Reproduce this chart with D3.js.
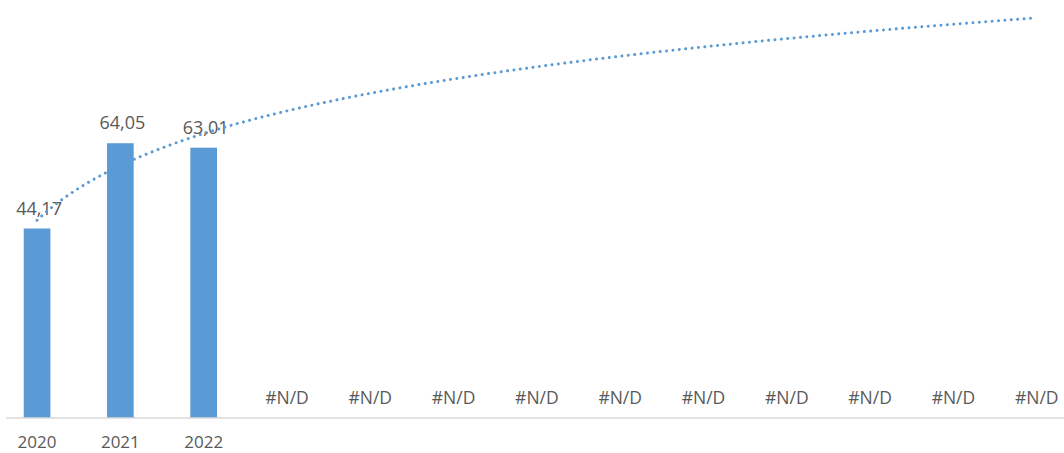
<!DOCTYPE html>
<html>
<head>
<meta charset="utf-8">
<script src="https://cdn.jsdelivr.net/npm/d3@7"></script>
<style>
  html, body { margin: 0; padding: 0; background: #fff; }
  svg { display: block; }
</style>
</head>
<body>
<svg id="chart" width="1064" height="453"></svg>
<script>
// ---- data ----
const categories = ["2020", "2021", "2022", "", "", "", "", "", "", "", "", "", ""];
const values = [44.17, 64.05, 63.01, null, null, null, null, null, null, null, null, null, null];
const labels = ["44,17", "64,05", "63,01", "#N/D", "#N/D", "#N/D", "#N/D", "#N/D", "#N/D", "#N/D", "#N/D", "#N/D", "#N/D"];
const yDomain = [0, 100];

// ---- layout ----
const svg = d3.select("#chart");
const baseY = 418;
const x = d3.scaleBand()
  .domain(d3.range(categories.length))
  .range([-4.6, 1078.4])
  .paddingInner(0.68)
  .paddingOuter(0.34);
const y = d3.scaleLinear().domain(yDomain).range([baseY, -11]);
const cx = i => x(i) + x.bandwidth() / 2;
const step = x.step();

const textColor = "#595959";
const font = "'Open Sans', 'Noto Sans', sans-serif";

// bars
svg.append("g").selectAll("rect")
  .data(values.map((v, i) => ({ v, i })).filter(d => d.v != null))
  .join("rect")
  .attr("x", d => x(d.i))
  .attr("width", x.bandwidth())
  .attr("y", d => y(d.v))
  .attr("height", d => y(0) - y(d.v))
  .attr("fill", "#5b9bd5");

// axis line
svg.append("line")
  .attr("x1", 6).attr("x2", 1064)
  .attr("y1", baseY).attr("y2", baseY)
  .attr("stroke", "#d9d9d9").attr("stroke-width", 1.5);

// category labels
svg.append("g").selectAll("text")
  .data(categories)
  .join("text")
  .attr("x", (d, i) => cx(i))
  .attr("y", 447.5)
  .attr("text-anchor", "middle")
  .attr("font-family", font)
  .attr("font-size", 17)
  .attr("fill", textColor)
  .text(d => d);

// data labels
svg.append("g").selectAll("text")
  .data(labels)
  .join("text")
  .attr("x", (d, i) => cx(i) + (values[i] != null ? 2 : 0))
  .attr("y", (d, i) => y(values[i] == null ? 0 : values[i]) - 14)
  .attr("text-anchor", "middle")
  .attr("font-family", font)
  .attr("font-size", (d, i) => values[i] != null ? 18 : 17.5)
  .attr("fill", textColor)
  .text(d => d);

// logarithmic trendline (least-squares fit of y = a + b ln(n) on the known values)
const known = values.map((v, i) => ({ n: i + 1, v })).filter(d => d.v != null);
const lx = known.map(d => Math.log(d.n));
const mx = d3.mean(lx), my = d3.mean(known, d => d.v);
const b = d3.sum(known, (d, k) => (lx[k] - mx) * (d.v - my)) / d3.sum(lx, l => (l - mx) * (l - mx));
const a = my - b * mx;
const trendN = d3.range(1, categories.length + 0.001, 0.05);
const line = d3.line()
  .x(n => cx(0) + (n - 1) * step)
  .y(n => y(a + b * Math.log(n)))
  .curve(d3.curveLinear);
svg.append("path")
  .attr("d", line(trendN))
  .attr("fill", "none")
  .attr("stroke", "#5b9bd5")
  .attr("stroke-width", 3)
  .attr("stroke-linecap", "round")
  .attr("stroke-dasharray", "0.01 6.4");
</script>
</body>
</html>
